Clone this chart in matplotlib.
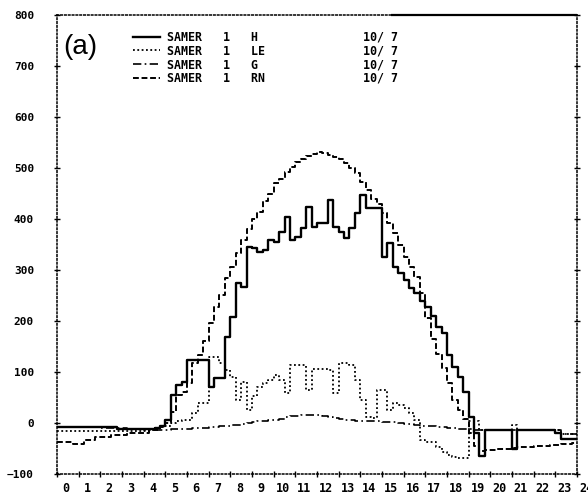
import numpy as np
import matplotlib.pyplot as plt
import matplotlib.transforms as mtransforms

plt.rcParams['font.family'] = 'DejaVu Sans Mono'
plt.rcParams['font.weight'] = 'bold'

# quarter-hour fluxes (W/m2), one row per hour
h_flux = [
    -8, -8, -8, -8,   -8, -8, -8, -8,   -8, -8, -8, -12,  -12, -12, -12, -12,
    -12, -12, -10, -5,  6, 55, 75, 80,  123, 123, 123, 123,  70, 88, 88, 169,
    208, 274, 267, 345,  343, 335, 339, 359,  355, 374, 404, 359,  365, 382, 423, 384,
    392, 392, 437, 384,  374, 363, 382, 412,  447, 421, 421, 421,  325, 353, 306, 294,
    280, 265, 255, 240,  227, 210, 188, 176,  133, 110, 90, 61,  12, -20, -65, -14,
    -14, -14, -14, -14,  -50, -14, -14, -14,  -14, -14, -14, -14,  -20, -32, -32, -32,
]
le_flux = [
    -15, -15, -15, -15,  -15, -15, -15, -15,  -15, -15, -16, -16,  -16, -16, -16, -16,
    -15, -12, -10, -6,  -5, 0, 3, 5,  5, 20, 39, 39,  130, 130, 118, 104,
    90, 45, 80, 25,  52, 71, 78, 84,  94, 84, 59, 114,  114, 114, 65, 105,
    105, 105, 104, 59,  118, 118, 114, 84,  45, 12, 9, 65,  65, 25, 40, 35,
    29, 20, 6, -33,  -37, -37, -47, -57,  -62, -66, -69, -69,  3, 3, -14, -14,
    -14, -14, -14, -14,  -4, -14, -14, -14,  -14, -14, -14, -14,  -14, -22, -22, -22,
]
g_flux = [
    -8, -8, -8, -8,  -8, -8, -8, -8,  -9, -9, -9, -9,  -10, -11, -12, -12,
    -13, -14, -14, -14,  -13, -12, -12, -11,  -11, -10, -10, -9,  -8, -7, -6, -5,
    -4, -3, -2, 0,  2, 3, 4, 5,  6, 8, 11, 13,  14, 15, 16, 16,
    15, 13, 11, 9,  7, 6, 5, 4,  4, 3, 3, 3,  2, 1, 1, 0,
    -1, -2, -4, -5,  -6, -6, -7, -8,  -9, -10, -11, -12,  -12, -13, -14, -14,
    -14, -14, -14, -14,  -14, -14, -14, -14,  -14, -14, -14, -14,  -14, -22, -22, -22,
]
rn_flux = [
    -37, -37, -37, -41,  -41, -33, -33, -27,  -27, -27, -23, -23,  -23, -20, -20, -20,
    -20, -14, -14, -8,  0, 22, 55, 61,  78, 117, 133, 160,  196, 227, 251, 284,
    306, 333, 359, 380,  400, 414, 435, 450,  470, 478, 492, 502,  512, 518, 524, 528,
    532, 530, 526, 522,  518, 510, 500, 490,  472, 457, 440, 430,  411, 392, 372, 349,
    325, 306, 286, 255,  205, 165, 135, 108,  78, 45, 25, 8,  -20, -45, -55, -53,
    -52, -51, -50, -50,  -49, -48, -48, -47,  -46, -46, -45, -44,  -43, -42, -41, -40,
]

names = ['H', 'LE', 'G', 'RN']
date = '10/ 7'
hours = np.arange(97) / 4.0

fig = plt.figure(figsize=(5.88, 4.95), dpi=100)
ax = fig.add_axes([57 / 588, 21 / 495, 520 / 588, 459 / 495])

styles = [
    dict(ls='-', lw=1.7),
    dict(ls=(0, (1, 1.4)), lw=1.3),
    dict(ls=(0, (5, 2, 1, 2)), lw=1.2),
    dict(ls=(0, (3, 1.4)), lw=1.4),
]
handles = []
for vals, st in zip([h_flux, le_flux, g_flux, rn_flux], styles):
    v = np.append(vals, vals[-1])
    line, = ax.step(hours, v, where='post', color='black', **st)
    handles.append(line)

ax.set_xlim(0, 24)
ax.set_ylim(-100, 800)

for sp in ax.spines.values():
    sp.set_linestyle((0, (1, 1.5)))
    sp.set_linewidth(1.1)
# solid piece of the top border
ax.hlines(800, 15.4, 24, color='black', lw=1.6, clip_on=False)

ax.set_yticks(range(-100, 900, 100))
ax.set_xticks(range(25))
ax.tick_params(axis='y', direction='inout', length=5, width=1, pad=14,
               labelsize=8, right=True)
ax.tick_params(axis='x', direction='inout', length=5, width=1, pad=3,
               labelsize=8.5)
shift = mtransforms.ScaledTranslation(0.09, 0, fig.dpi_scale_trans)
for lbl in ax.get_xticklabels():
    lbl.set_transform(lbl.get_transform() + shift)

labels = [f"{'SAMER':<8}{'1':<4}{n:<16}{date}" for n in names]
ax.legend(handles, labels, loc='upper left',
          bbox_to_anchor=(133 / 588, 1 - 31 / 495), bbox_transform=fig.transFigure,
          frameon=False, borderpad=0, borderaxespad=0, handlelength=2.3,
          handletextpad=0.6, labelspacing=0.05,
          prop={'family': 'DejaVu Sans Mono', 'weight': 'bold', 'size': 8.4})

fig.text(63 / 588, 1 - 47 / 495, '(a)', fontsize=20, family='Liberation Sans',
         weight='normal', va='center', ha='left')

fig.savefig('out.png', dpi=100)
